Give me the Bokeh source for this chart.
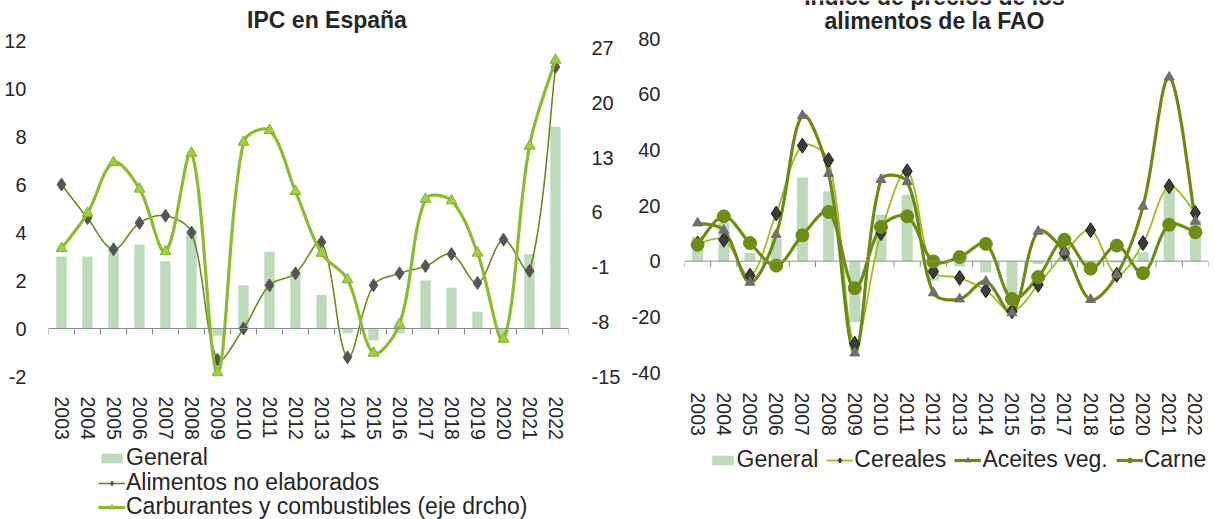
import numpy as np
from bokeh.plotting import figure
from bokeh.models import Range1d, LinearAxis, FixedTicker, Span, Legend, LegendItem, Label
from bokeh.layouts import row
from bokeh.embed import file_html
from bokeh.resources import INLINE

# ---------------- data ----------------
years = ["2003", "2004", "2005", "2006", "2007", "2008", "2009", "2010", "2011", "2012",
         "2013", "2014", "2015", "2016", "2017", "2018", "2019", "2020", "2021", "2022"]

# IPC en España (% anual)
ipc_general = [3.0, 3.0, 3.4, 3.5, 2.8, 4.1, -0.3, 1.8, 3.2, 2.4,
               1.4, -0.2, -0.5, -0.2, 2.0, 1.7, 0.7, -0.3, 3.1, 8.4]
ipc_alimentos = [6.0, 4.6, 3.3, 4.4, 4.7, 4.0, -1.3, 0.0, 1.8, 2.3,
                 3.6, -1.2, 1.8, 2.3, 2.6, 3.1, 1.9, 3.7, 2.4, 10.9]
ipc_carburantes = [1.4, 5.9, 12.4, 9.0, 1.0, 13.6, -14.5, 15.0, 16.5, 8.7,
                   0.8, -2.6, -12.0, -8.3, 7.7, 7.5, 0.8, -10.2, 14.5, 25.5]
ipc_ticks = [-2, 0, 2, 4, 6, 8, 10, 12]
ipc_tick_labels = ["-2", "0", "2", "4", "6", "8", "10", "12"]
fuel_ticks = [-15, -8, -1, 6, 13, 20, 27]
fuel_tick_labels = ["-15", "-8", "-1", "6", "13", "20", "27"]

# Índice de precios de los alimentos de la FAO (% anual)
fao_general = [8.9, 13.7, 2.9, 8.0, 30.1, 25.1, -21.9, 16.7, 23.9, -7.0,
               -1.9, -4.0, -18.7, -1.0, 6.5, -1.9, -0.5, 3.3, 26.9, 14.6]
fao_cereales = [6.3, 7.7, -5.2, 17.1, 41.5, 36.3, -29.7, 10.1, 32.3, -3.7,
                -6.0, -10.5, -18.0, -8.5, 2.9, 11.1, -4.9, 6.5, 26.9, 17.3]
fao_aceites = [13.7, 11.1, -7.6, 9.5, 52.3, 31.5, -33.0, 29.3, 28.5, -11.4,
               -13.6, -7.3, -18.6, 10.7, 3.3, -13.8, -4.9, 19.7, 66.1, 14.3]
fao_carne = [5.9, 16.1, 6.5, -1.6, 9.3, 17.7, -9.7, 12.3, 16.1, -0.1,
             1.5, 6.2, -13.6, -5.7, 7.7, -2.7, 5.6, -4.3, 13.1, 10.4]
fao_ticks = [-40, -20, 0, 20, 40, 60, 80]
fao_tick_labels = ["-40", "-20", "0", "20", "40", "60", "80"]

# ---------------- style / layout ----------------
FONT = "Liberation Sans"
TXT = "#262626"
BAR = "#bddbbb"
AXIS = "#8c8c8c"
H = 519

x_idx = list(range(len(years)))
bounds = [i - 0.5 for i in range(len(years) + 1)]


def px_range(vmin, vmax, top_px, bot_px):
    """Range so that vmax sits at top_px and vmin at bot_px of a full-height frame."""
    ppu = (bot_px - top_px) / (vmax - vmin)
    return Range1d(vmin - (H - bot_px) / ppu, vmax + top_px / ppu), ppu


def smooth(vals, xppu, yppu, steps=24):
    """Excel-like smoothed line: cubic Bezier, control arms scaled by segment lengths
    (computed in pixel space)."""
    n = len(vals)
    P = np.column_stack([np.arange(n) * xppu, np.asarray(vals, float) * yppu])
    Pe = np.vstack([P[0], P, P[-1]])
    T = Pe[2:] - Pe[:-2]                       # tangent at each point
    d = np.hypot(*(P[1:] - P[:-1]).T)          # segment lengths
    dpad = np.concatenate([[d[0]], d, [d[-1]]])
    t = np.linspace(0, 1, steps, endpoint=False)[:, None]
    out = []
    for i in range(n - 1):
        p1, p2 = P[i], P[i + 1]
        f1 = d[i] / (dpad[i] + d[i]) / 3.0
        f2 = d[i] / (d[i] + dpad[i + 2]) / 3.0
        c1 = p1 + T[i] * f1
        c2 = p2 - T[i + 1] * f2
        out.append((1 - t) ** 3 * p1 + 3 * (1 - t) ** 2 * t * c1
                   + 3 * (1 - t) * t ** 2 * c2 + t ** 3 * p2)
    out.append(P[-1][None, :])
    arr = np.vstack(out)
    return arr[:, 0] / xppu, arr[:, 1] / yppu


def base_fig(width, yr, mbl, mbr):
    p = figure(width=width, height=H, x_range=Range1d(-0.5, len(years) - 0.5),
               y_range=yr, output_backend="svg", toolbar_location=None,
               min_border_left=mbl, min_border_right=mbr,
               min_border_top=0, min_border_bottom=0)
    p.outline_line_color = None
    p.grid.visible = False
    p.background_fill_color = "white"
    p.border_fill_color = "white"
    return p


def style_yaxis(ay, ticks, labels, standoff):
    ay.ticker = FixedTicker(ticks=ticks)
    ay.major_label_overrides = {t: s for t, s in zip(ticks, labels)}
    ay.major_label_standoff = standoff
    ay.axis_line_color = None
    ay.major_tick_line_color = None
    ay.minor_tick_line_color = None
    ay.major_label_text_font = FONT
    ay.major_label_text_font_size = "20px"
    ay.major_label_text_color = TXT


def style_xaxis(p, loc):
    ax = p.xaxis[0]
    ax.fixed_location = loc
    ax.ticker = FixedTicker(ticks=x_idx)
    ax.major_label_overrides = {i: years[i] for i in x_idx}
    ax.major_label_orientation = "vertical"
    ax.major_label_standoff = 14
    ax.axis_line_color = None
    ax.major_tick_line_color = None
    ax.minor_tick_line_color = None
    ax.major_label_text_font = FONT
    ax.major_label_text_font_size = "19.5px"
    ax.major_label_text_color = TXT


def zero_axis(p, tick_len):
    p.add_layout(Span(location=0, dimension="width", line_color=AXIS, line_width=1))
    p.segment(x0=bounds, y0=[0] * len(bounds), x1=bounds, y1=[-tick_len] * len(bounds),
              line_color=AXIS, line_width=1)


def legend(p, items, loc, orientation="vertical"):
    lg = Legend(items=items, location=loc, orientation=orientation,
                background_fill_alpha=0, border_line_color=None, padding=0, margin=0,
                spacing=8, label_text_font=FONT, label_text_font_size="23px",
                label_text_color=TXT, glyph_width=27, glyph_height=12,
                label_standoff=1, label_height=12)
    p.add_layout(lg)


def title(p, text, x, y):
    p.add_layout(Label(x=x, y=y, x_units="screen", y_units="screen", text=text,
                       text_align="center", text_baseline="middle", text_font=FONT,
                       text_font_size="23px", text_font_style="bold", text_color=TXT))


# ---------------- left chart: IPC en España ----------------
yr1, ppu1 = px_range(-2, 12, 40, 376)
yr1f, ppu1f = px_range(-15, 28, 40, 376)
p1 = base_fig(628, yr1, 48, 60)
p1.extra_y_ranges = {"fuel": yr1f}
style_yaxis(p1.yaxis[0], ipc_ticks, ipc_tick_labels, 16)
ax_r = LinearAxis(y_range_name="fuel")
style_yaxis(ax_r, fuel_ticks, fuel_tick_labels, 17)
p1.add_layout(ax_r, "right")
style_xaxis(p1, -2)

b1 = p1.vbar(x=x_idx, top=ipc_general, bottom=0, width=0.4, fill_color=BAR, line_color=None)
zero_axis(p1, 6 / ppu1)

sx, sy = smooth(ipc_alimentos, 26, ppu1)
l_al = p1.line(sx, sy, line_color="#6b8a1e", line_width=1.6)
m_al = p1.scatter(x_idx, ipc_alimentos, marker="diamond", size=13,
                  fill_color="#555555", line_color="#555555")

sx, sy = smooth(ipc_carburantes, 26, ppu1f)
l_ca = p1.line(sx, sy, line_color="#8dbb2d", line_width=3.2, y_range_name="fuel")
m_ca = p1.scatter(x_idx, ipc_carburantes, marker="triangle", size=11, y_range_name="fuel",
                  fill_color="#9fcf3f", line_color="#86b32a")

title(p1, "IPC en España", 278.5, H - 19)

legend(p1, [LegendItem(label="General", renderers=[b1])], (50, H - 458 - 13))
legend(p1, [LegendItem(label="Alimentos no elaborados", renderers=[l_al, m_al])],
       (50, H - 483 - 13))
legend(p1, [LegendItem(label="Carburantes y combustibles (eje drcho)",
                       renderers=[l_ca, m_ca])], (50, H - 507 - 13))

# ---------------- right chart: FAO ----------------
yr2, ppu2 = px_range(-40, 80, 38, 372)
p2 = base_fig(587, yr2, 54, 7)
style_yaxis(p2.yaxis[0], fao_ticks, fao_tick_labels, 18)
style_xaxis(p2, -40)

b2 = p2.vbar(x=x_idx, top=fao_general, bottom=0, width=0.42, fill_color=BAR, line_color=None)
zero_axis(p2, 6 / ppu2)

sx, sy = smooth(fao_cereales, 26.3, ppu2)
l_ce = p2.line(sx, sy, line_color="#9dbe1e", line_width=1.8)
sx, sy = smooth(fao_aceites, 26.3, ppu2)
l_ac = p2.line(sx, sy, line_color="#6a8a10", line_width=3.2)
sx, sy = smooth(fao_carne, 26.3, ppu2)
l_cn = p2.line(sx, sy, line_color="#6e8c14", line_width=3.2)

m_ce = p2.scatter(x_idx, fao_cereales, marker="diamond", size=15,
                  fill_color="#3c3c3c", line_color="#1a1a1a")
m_ac = p2.scatter(x_idx, fao_aceites, marker="triangle", size=10,
                  fill_color="#6f6f6f", line_color="#6f6f6f")
m_cn = p2.scatter(x_idx, fao_carne, marker="circle", size=13,
                  fill_color="#6e8c14", line_color="#6e8c14")

title(p2, "Índice de precios de los", 250, H + 4)
title(p2, "alimentos de la FAO", 250, H - 20)

legend(p2, [LegendItem(label="General", renderers=[b2]),
            LegendItem(label="Cereales", renderers=[l_ce, m_ce]),
            LegendItem(label="Aceites veg.", renderers=[l_ac, m_ac]),
            LegendItem(label="Carne", renderers=[l_cn, m_cn])],
       (24.5, H - 460 - 13), orientation="horizontal")

layout = row(p1, p2)
open("out.html", "w").write(file_html(layout, INLINE))
